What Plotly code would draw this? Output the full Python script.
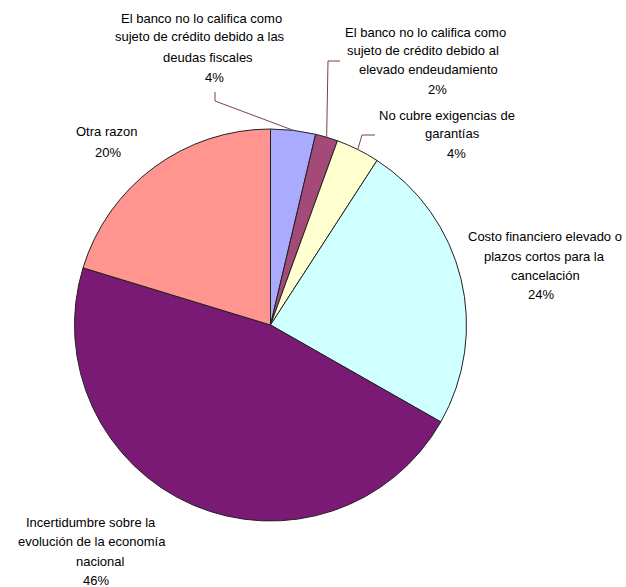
import math
import plotly.graph_objects as go

# ---- data ----
categories = [
    "El banco no lo califica como sujeto de crédito debido a las deudas fiscales",
    "El banco no lo califica como sujeto de crédito debido al elevado endeudamiento",
    "No cubre exigencias de garantías",
    "Costo financiero elevado o plazos cortos para la cancelación",
    "Incertidumbre sobre la evolución de la economía nacional",
    "Otra razon",
]
values = [3.7, 1.85, 3.6, 24.1, 46.5, 20.3]
pct_labels = ["4%", "2%", "4%", "24%", "46%", "20%"]
label_lines = [
    ["El banco no lo califica como", "sujeto de crédito debido a las", "deudas fiscales"],
    ["El banco no lo califica como", "sujeto de crédito debido al", "elevado endeudamiento"],
    ["No cubre exigencias de", "garantías"],
    ["Costo financiero elevado o", "plazos cortos para la", "cancelación"],
    ["Incertidumbre sobre la", "evolución de la economía", "nacional"],
    ["Otra razon"],
]
colors = ["#AAAAFF", "#A44A79", "#FFFFD0", "#D0FFFF", "#7A1A75", "#FF958E"]

W, H = 626, 587
CX, CY, R = 270.5, 325, 196  # pie centre / radius in pixels

def px(x):
    return x / W

def py(y):
    return 1 - y / H

fig = go.Figure(go.Pie(
    labels=categories, values=values, sort=False, direction="clockwise",
    rotation=0, textinfo="none", hoverinfo="label+percent",
    marker=dict(colors=colors, line=dict(color="#222222", width=1)),
    domain=dict(x=[px(CX - R), px(CX + R)], y=[py(CY + R), py(CY - R)]),
    showlegend=False,
))

# label placement (pixel positions of each text line centre)
label_pos = [
    [(201, 18), (200, 37), (208, 58), (214, 77)],
    [(425, 32), (423, 51), (428, 70), (437, 89)],
    [(447, 115), (452, 134), (456, 153)],
    [(545, 236), (544, 256), (545, 276), (541, 295)],
    [(91, 522), (92, 541), (101, 561), (96, 580)],
    [(106, 131), (108, 152)],
]
font = dict(family="Liberation Sans, Arial, sans-serif", size=13, color="#000000")
annotations = []
for lines, pct, pos in zip(label_lines, pct_labels, label_pos):
    for txt, (x, y) in zip(lines + [pct], pos):
        annotations.append(dict(
            x=px(x), y=py(y), xref="paper", yref="paper", text=txt,
            showarrow=False, xanchor="center", yanchor="middle", font=font,
        ))

# leader lines for the three small slices
total = sum(values)
cum = 0
mids = []
for v in values:
    mids.append((cum + v / 2) / total * 2 * math.pi)
    cum += v

def edge(i):
    a = mids[i]
    return CX + R * math.sin(a), CY - R * math.cos(a)

leaders = [
    (0, [(215, 92), (215, 101)]),
    (1, [(340, 61), (328, 61)]),
    (2, [(375, 135), (362, 135)]),
]
shapes = []
lc = "#7F3F3F"
for i, pts in leaders:
    pts = pts + [edge(i)]
    for (x0, y0), (x1, y1) in zip(pts[:-1], pts[1:]):
        shapes.append(dict(type="line", xref="paper", yref="paper",
                           x0=px(x0), y0=py(y0), x1=px(x1), y1=py(y1),
                           line=dict(color=lc, width=1)))

fig.update_layout(
    width=W, height=H, margin=dict(l=0, r=0, t=0, b=0),
    paper_bgcolor="white", plot_bgcolor="white",
    annotations=annotations, shapes=shapes,
)
fig.write_html("out.html", config={"displayModeBar": False},
               post_script="document.body.style.margin='0';")
